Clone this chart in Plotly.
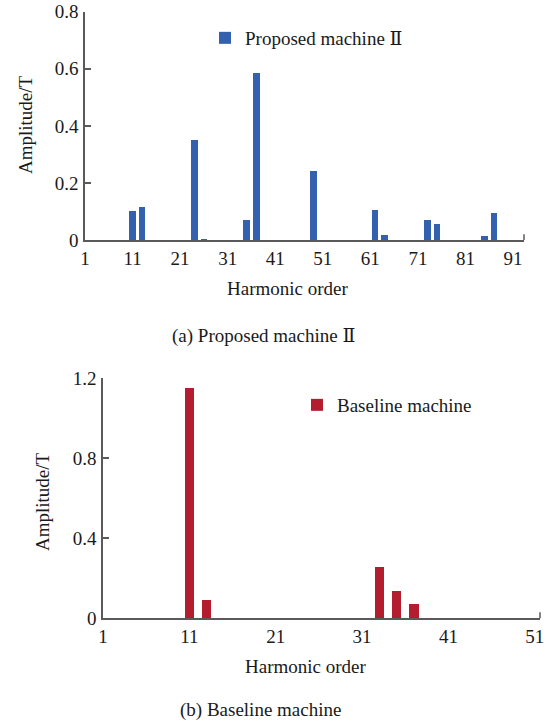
import plotly.graph_objects as go

# Data
top_orders = [11, 13, 24, 26, 35, 37, 49, 62, 64, 73, 75, 85, 87]
top_amps = [0.103, 0.118, 0.352, 0.005, 0.072, 0.585, 0.243, 0.107, 0.020, 0.072, 0.057, 0.015, 0.096]
bot_orders = [11, 13, 33, 35, 37]
bot_amps = [1.15, 0.088, 0.255, 0.137, 0.070]
top_ticks = [1, 11, 21, 31, 41, 51, 61, 71, 81, 91]
bot_ticks = [1, 11, 21, 31, 41, 51]
top_yticks = [0, 0.2, 0.4, 0.6, 0.8]
bot_yticks = [0, 0.4, 0.8, 1.2]

W, H = 550, 726
FONT = "Liberation Serif"
FS = 19
AX = "#5a5a5a"
TXT = "#1a1a1a"
ROMAN2 = "<span style=\"font-family:'DejaVu Serif'\">Ⅱ</span>"

def px(x):
    return x / W

def py(y):
    return 1 - y / H

fig = go.Figure()
fig.add_trace(go.Bar(x=top_orders, y=top_amps, width=1.4, name="Proposed machine " + ROMAN2,
                     marker=dict(color="#3460b0", line=dict(width=0)),
                     xaxis="x", yaxis="y", legend="legend"))
fig.add_trace(go.Bar(x=bot_orders, y=bot_amps, width=1.1, name="Baseline machine",
                     marker=dict(color="#b41c30", line=dict(width=0)),
                     xaxis="x2", yaxis="y2", legend="legend2"))

axis_common = dict(showgrid=False, zeroline=False, showline=True, linecolor=AX, linewidth=1.5,
                   automargin=False, tickfont=dict(family=FONT, size=FS, color=TXT))

fig.update_layout(
    template=None,
    width=W, height=H, margin=dict(l=0, r=0, t=0, b=0, autoexpand=False),
    paper_bgcolor="white", plot_bgcolor="white",
    font=dict(family=FONT, size=FS, color=TXT),
    xaxis=dict(domain=[px(85), px(524)], range=[1, 93.3], anchor="y",
               tickvals=top_ticks, ticks="", **axis_common),
    yaxis=dict(domain=[py(240), py(11.7)], range=[0, 0.8], anchor="x",
               tickvals=top_yticks, ticktext=["0", "0.2", "0.4", "0.6", "0.8"],
               ticks="inside", ticklen=6, tickcolor=AX, tickwidth=1.5, ticklabelstandoff=1,
               **axis_common),
    xaxis2=dict(domain=[px(103), px(540)], range=[1, 51.6], anchor="y2",
                tickvals=bot_ticks, ticks="", **axis_common),
    yaxis2=dict(domain=[py(618.3), py(378.3)], range=[0, 1.2], anchor="x2",
                tickvals=bot_yticks, ticktext=["0", "0.4", "0.8", "1.2"],
                ticks="inside", ticklen=6, tickcolor=AX, tickwidth=1.5, ticklabelstandoff=1,
                **axis_common),
    legend=dict(x=px(205), y=py(19), xanchor="left", yanchor="top",
                bgcolor="rgba(0,0,0,0)", font=dict(family=FONT, size=FS, color=TXT)),
    legend2=dict(x=px(297), y=py(386), xanchor="left", yanchor="top",
                 bgcolor="rgba(0,0,0,0)", font=dict(family=FONT, size=FS, color=TXT)),
    showlegend=True,
    bargap=0,
)

# right-end ticks on x axes
fig.add_shape(type="line", xref="x domain", yref="y domain", x0=1, x1=1, y0=0, y1=0.025,
              line=dict(color=AX, width=1.5))
fig.add_shape(type="line", xref="x2 domain", yref="y2 domain", x0=1, x1=1, y0=0, y1=0.025,
              line=dict(color=AX, width=1.5))

ann = [
    dict(text="Amplitude/T", x=px(25), y=py(125), textangle=-90),
    dict(text="Harmonic order", x=px(287), y=py(288)),
    dict(text="(a) Proposed machine " + ROMAN2, x=px(263), y=py(335)),
    dict(text="Amplitude/T", x=px(42), y=py(502), textangle=-90),
    dict(text="Harmonic order", x=px(305), y=py(666)),
    dict(text="(b) Baseline machine", x=px(260), y=py(710)),
]
for a in ann:
    fig.add_annotation(xref="paper", yref="paper", showarrow=False,
                       font=dict(family=FONT, size=FS, color=TXT),
                       xanchor="center", yanchor="middle", **a)

fig.write_html("out.html", post_script="document.body.style.margin='0';")
